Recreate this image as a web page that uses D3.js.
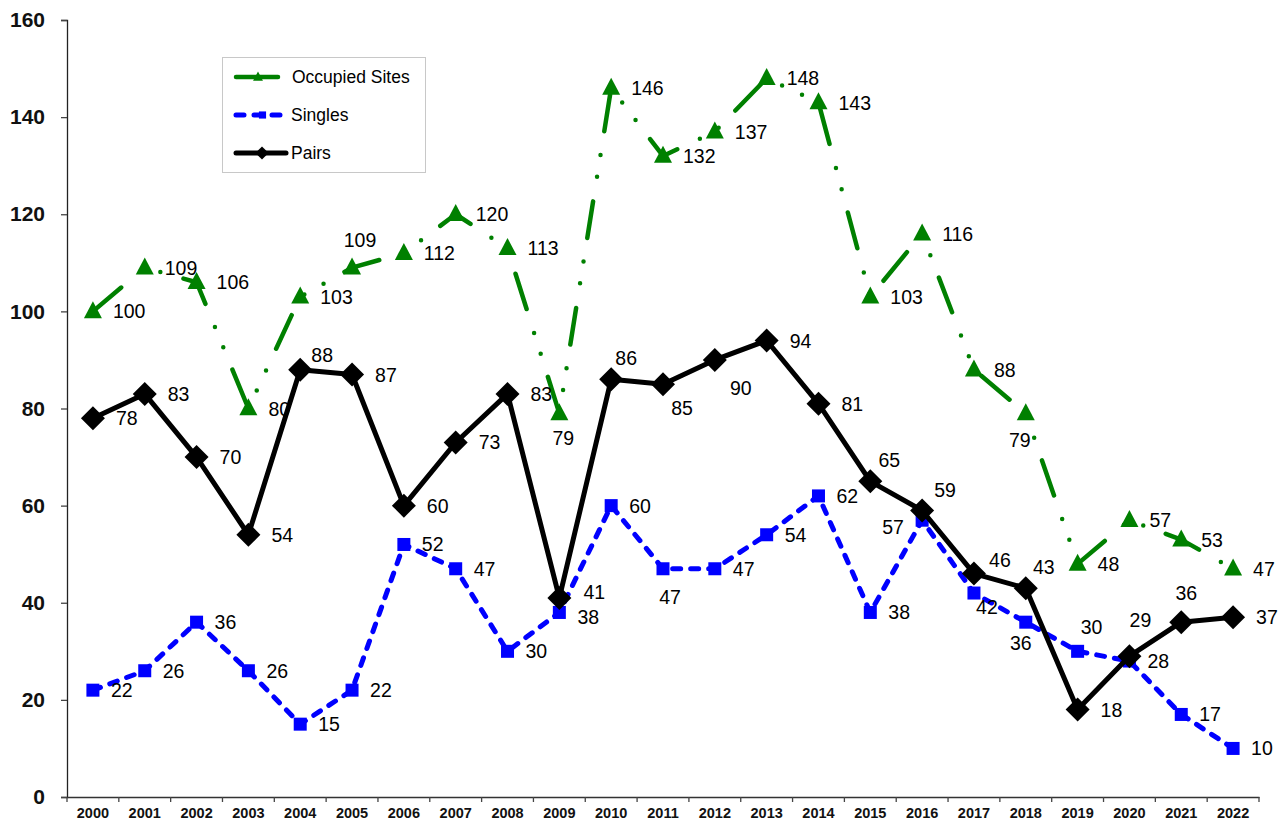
<!DOCTYPE html>
<html>
<head>
<meta charset="utf-8">
<script src="https://cdn.jsdelivr.net/npm/d3@7"></script>
<style>
  html, body { margin: 0; padding: 0; background: #fff; }
  svg { display: block; font-family: Arial, "Liberation Sans", sans-serif; }
</style>
</head>
<body>
<svg id="chart" width="1286" height="823"></svg>
<script>
// ---- data ----
const years = ["2000","2001","2002","2003","2004","2005","2006","2007","2008","2009","2010","2011","2012","2013","2014","2015","2016","2017","2018","2019","2020","2021","2022"];
const occupiedSites = [100,109,106,80,103,109,112,120,113,79,146,132,137,148,143,103,116,88,79,48,57,53,47];
const singles = [22,26,36,26,15,22,52,47,30,38,60,47,47,54,62,38,57,42,36,30,28,17,10];
const pairs = [78,83,70,54,88,87,60,73,83,41,86,85,90,94,81,65,59,46,43,18,29,36,37];
const yTicks = [0,20,40,60,80,100,120,140,160];
const seriesNames = ["Occupied Sites","Singles","Pairs"];

// ---- layout / style ----
const plot = { left: 67, right: 1259, top: 20, bottom: 797 };
const svg = d3.select("#chart");

const x = d3.scaleBand().domain(years).range([plot.left, plot.right]).padding(0);
const y = d3.scaleLinear().domain([0, 160]).range([plot.bottom, plot.top]);
const cx = d => x(d) + x.bandwidth() / 2;

const styles = {
  "Occupied Sites": { color: "#008000", width: 4.5, dash: "37 25 0 22 0 24", cap: "round", marker: "triangle", labelDx: 20 },
  "Singles":        { color: "#0000FF", width: 5,   dash: "8 10", cap: "round", marker: "square", labelDx: 18 },
  "Pairs":          { color: "#000000", width: 5,   dash: null, cap: "round", marker: "diamond", labelDx: 23 }
};

// label overrides (centre offsets from the point)
const labelOverrides = {
  "Occupied Sites": { 5: [8, -28], 9: [4, 25], 18: [-6, 27] },
  "Pairs": { 4: [22, -15], 9: [35, -6], 10: [15, -21], 11: [19, 24], 12: [26, 28], 15: [19, -21], 16: [23, -20], 17: [26, -14], 18: [18, -21], 20: [11, -36], 21: [5, -29] },
  "Singles": { 9: [29, 5], 11: [7, 28], 16: [-29, 7], 17: [13, 14], 18: [-5, 21], 19: [14, -24] }
};

const seriesData = {
  "Occupied Sites": occupiedSites,
  "Singles": singles,
  "Pairs": pairs
};

// ---- axes ----
const yAxis = d3.axisLeft(y).tickValues(yTicks).tickSize(6).tickPadding(16).tickFormat(d3.format("d"));
const gy = svg.append("g").attr("transform", `translate(${plot.left},0)`).call(yAxis);
gy.select(".domain").attr("stroke", "#222").attr("stroke-width", 1.3);
gy.selectAll(".tick line").attr("stroke", "#444").attr("stroke-width", 1.3);
gy.selectAll(".tick text").attr("font-size", 21).attr("font-weight", "bold").attr("fill", "#111")
  .attr("font-family", "Arial, 'Liberation Sans', sans-serif");

const xAxis = d3.axisBottom(x).tickSize(0).tickPadding(11);
const gx = svg.append("g").attr("transform", `translate(0,${plot.bottom})`).call(xAxis);
gx.select(".domain").attr("stroke", "#333").attr("stroke-width", 1.3);
gx.selectAll(".tick text").attr("font-size", 14.5).attr("font-weight", "bold").attr("fill", "#111")
  .attr("font-family", "Arial, 'Liberation Sans', sans-serif");
// boundary ticks
const bounds = years.map(d => x(d)).concat([plot.right]);
gx.selectAll(".btick").data(bounds).enter().append("line")
  .attr("x1", d => d).attr("x2", d => d).attr("y1", 0).attr("y2", 5)
  .attr("stroke", "#444").attr("stroke-width", 1.3);

// ---- markers ----
function drawMarker(g, type, px, py, color, scale = 1) {
  if (type === "triangle") {
    const w = 18 * scale, h = 17 * scale;
    g.append("path").attr("d", `M${px},${py - h * 0.6} L${px + w / 2},${py + h * 0.4} L${px - w / 2},${py + h * 0.4} Z`).attr("fill", color);
  } else if (type === "square") {
    const s = 13 * scale;
    g.append("rect").attr("x", px - s / 2).attr("y", py - s / 2).attr("width", s).attr("height", s).attr("fill", color);
  } else if (type === "diamond") {
    const r = 12 * scale;
    g.append("path").attr("d", `M${px},${py - r} L${px + r},${py} L${px},${py + r} L${px - r},${py} Z`).attr("fill", color);
  }
}

// ---- series ----
const line = d3.line().x((d, i) => cx(years[i])).y(d => y(d));
const labelLayer = [];
seriesNames.forEach(name => {
  const st = styles[name];
  const vals = seriesData[name];
  const g = svg.append("g");
  g.append("path").datum(vals).attr("d", line).attr("fill", "none")
    .attr("stroke", st.color).attr("stroke-width", st.width)
    .attr("stroke-linecap", st.cap).attr("stroke-linejoin", "round")
    .attr("stroke-dasharray", st.dash);
  vals.forEach((v, i) => drawMarker(g, st.marker, cx(years[i]), y(v), st.color));
  vals.forEach((v, i) => labelLayer.push({ name, v, i }));
});

const lg = svg.append("g");
labelLayer.forEach(({ name, v, i }) => {
  const st = styles[name];
  const ov = (labelOverrides[name] || {})[i];
  const px = cx(years[i]), py = y(v);
  const t = lg.append("text").text(v).attr("font-size", 19.5).attr("fill", "#000")
    .attr("dominant-baseline", "central");
  if (ov) {
    t.attr("x", px + ov[0]).attr("y", py + ov[1]).attr("text-anchor", "middle");
  } else {
    t.attr("x", px + st.labelDx).attr("y", py).attr("text-anchor", "start");
  }
});

// ---- legend ----
const leg = svg.append("g");
leg.append("rect").attr("x", 222.5).attr("y", 57.5).attr("width", 203).attr("height", 115)
  .attr("fill", "#fff").attr("stroke", "#c8c8c8").attr("stroke-width", 1);
const legRows = [
  { name: "Occupied Sites", y: 77, x2: 280, tx: 292 },
  { name: "Singles", y: 115, x2: 289, tx: 291 },
  { name: "Pairs", y: 153, x2: 288, tx: 291 }
];
legRows.forEach(r => {
  const st = styles[r.name];
  leg.append("line").attr("x1", 236).attr("x2", r.x2 - 2).attr("y1", r.y).attr("y2", r.y)
    .attr("stroke", st.color).attr("stroke-width", st.width)
    .attr("stroke-linecap", st.cap).attr("stroke-dasharray", r.name === "Occupied Sites" ? null : st.dash);
  drawMarker(leg, st.marker, (236 + r.x2) / 2, r.y, st.color, 0.55);
  leg.append("text").attr("x", r.tx).attr("y", r.y).attr("dominant-baseline", "central")
    .attr("font-size", 17.5).attr("fill", "#000").text(r.name);
});
</script>
</body>
</html>
